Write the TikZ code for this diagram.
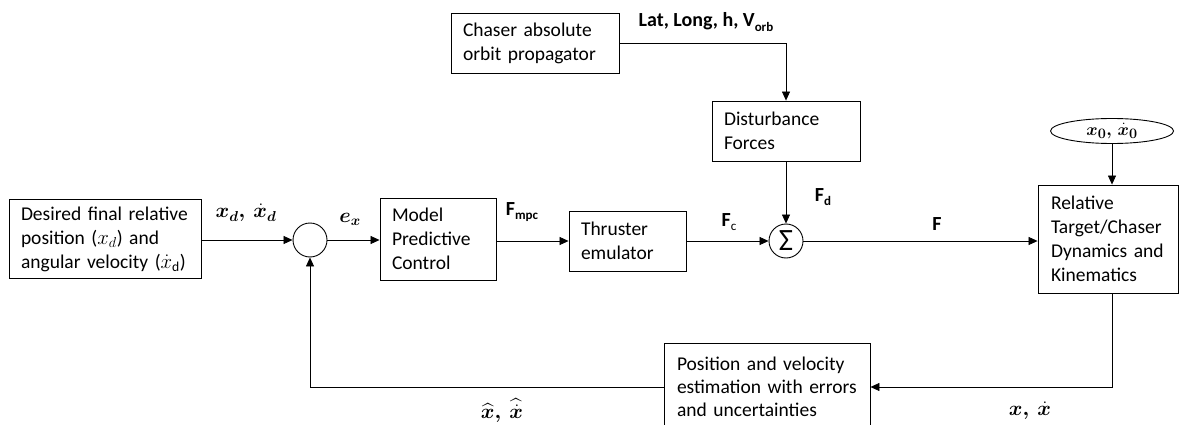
\documentclass[tikz,border=0pt]{standalone}
\usepackage{amsmath,bm}
\usepackage{fontspec}
\setmainfont{Carlito}
\usetikzlibrary{arrows.meta,shapes.geometric,positioning,calc}

% lowered subscript for signal labels
\newcommand{\lowsub}[1]{\raisebox{-0.45ex}{\fontsize{13}{13}\selectfont #1}}

\tikzset{
  block/.style={draw, line width=0.9pt, align=left, inner xsep=12pt, inner ysep=0pt,
    font=\fontsize{19.5}{24}\selectfont},
  sumnode/.style={draw, circle, line width=0.9pt, minimum size=34pt, inner sep=0pt},
  sig/.style={inner sep=0pt, font=\fontsize{20}{22}\selectfont\bfseries},
  msig/.style={inner sep=0pt, font=\fontsize{21}{24}\selectfont},
  flow/.style={-{Triangle[length=9pt,width=8pt]}, line width=0.7pt},
}

\begin{document}
\begin{tikzpicture}[x=1pt,y=-1pt]
    \useasboundingbox (0,0) rectangle (1180,425);

    % Blocks
    \node[block, text width=168pt, minimum height=79pt] (des) at (105,239)
        {Desired final relative\\position ($x_d$) and\\angular velocity ($\dot{x}_\mathrm{d}$)};
    \node[sumnode] (s1) at (310,240) {};
    \node[block, text width=92pt, minimum height=82pt] (mpc) at (438,239)
        {Model\\Predictive\\Control};
    \node[block, text width=93pt, minimum height=60pt] (thr) at (627.5,241)
        {Thruster\\emulator};
    \node[sumnode, font=\fontsize{31}{32}\selectfont] (s2) at (786,241) {Σ};
    \node[block, text width=144pt, minimum height=60pt] (chs) at (535,43)
        {Chaser absolute\\orbit propagator};
    \node[block, text width=124pt, minimum height=60pt] (dst) at (786,131)
        {Disturbance\\Forces};
    \node[block, text width=114pt, minimum height=108pt, inner xsep=13pt] (rel) at (1108,239)
        {Relative\\Target/Chaser\\Dynamics and\\Kinematics};
    \node[draw, ellipse, line width=0.9pt, minimum width=123pt, minimum height=25pt,
        inner sep=0pt, font=\fontsize{19}{20}\selectfont] (ini) at (1112,131)
        {$\bm{x_0,\,\dot{x}_0}$};
    \node[block, text width=180pt, minimum height=88pt, inner xsep=13pt, font=\fontsize{19.5}{23}\selectfont] (est) at (767,387)
        {Position and velocity\\estimation with errors\\and uncertainties};

    % Signals
    \draw[flow] (des.east |- s1.west) -- (s1.west);
    \draw[flow] (s1.east) -- (mpc.west |- s1.east);
    \draw[flow] (mpc.east |- thr.west) -- (thr.west);
    \draw[flow] (thr.east) -- (s2.west);
    \draw[flow] (chs.east) -| (dst.north);
    \draw[flow] (dst.south) -- (s2.north);
    \draw[flow] (s2.east) -- (rel.west |- s2.east);
    \draw[flow] (ini.south) -- (ini.south |- rel.north);
    \draw[flow] (ini.south |- rel.south) |- (est.east);
    \draw[flow] (est.west) -| (s1.south);

    % Labels
    \node[msig] (lxd) at (246,213) {$\bm{x_d,\ \dot{x}_d}$};
    \node[msig] (lex) at (350,219) {$\bm{e_x}$};
    \node[sig] (lfm) at (522,212) {F\lowsub{mpc}};
    \node[sig] (lfc) at (729,222) {F\lowsub{\mdseries c}};
    \node[sig] (lorb) at (706,22) {Lat, Long, h, V\lowsub{orb}};
    \node[sig] (lfd) at (823,197) {F\lowsub{d}};
    \node[sig] (lf) at (937,224) {F};
    \node[msig] (lxo) at (1030,411) {$\bm{x,\ \dot{x}}$};
    \node[msig] (lxh) at (502,411) {$\bm{\widehat{x},\ \widehat{\dot{x}}}$};
\end{tikzpicture}
\end{document}
